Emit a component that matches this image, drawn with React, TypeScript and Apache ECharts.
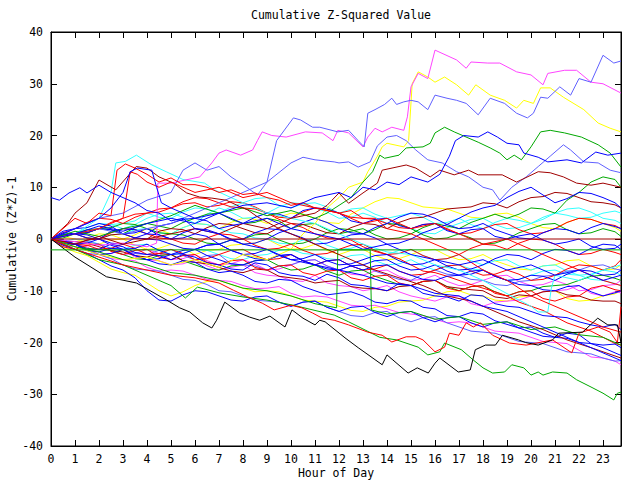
import React, { useEffect, useRef } from "react";
import * as echarts from "echarts";

type P = [number, number];

const HOURS = [0, 1, 2, 3, 4, 5, 6, 7, 8, 9, 10, 11, 12, 13, 14, 15, 16, 17, 18, 19, 20, 21, 22, 23, 23.75];
const MID_HOURS = [0.5, 1.5, 2.5, 3.5, 4.5, 5.5, 6.5, 7.5, 8.5, 9.5, 10.5, 11.5, 12.5, 13.5, 14.5, 15.5, 16.5, 17.5, 18.5, 19.5, 20.5, 21.5, 22.5, 23.5];
const X_TICKS = HOURS.slice(0, 24);
const Y_TICKS = [-40, -30, -20, -10, 0, 10, 20, 30, 40];

// ---- traced walks: [hour, value] ----
const magentaTop: P[] = [[0,0],[1,-0.5],[2,-1.2],[3,-0.8],[4,-1.5],[4.4,-0.8],[4.45,10.8],[5,10.8],[6.2,12],[6.7,14.7],[7,16.6],[7.3,17.2],[7.9,16.2],[8.4,17.2],[8.6,19],[8.8,20.7],[9.2,20],[9.8,19.7],[10.6,20.7],[11.3,20.5],[11.75,19],[11.95,21],[12.4,20.5],[13,17.8],[13.2,19.7],[13.5,21.4],[13.8,20.7],[14.2,21.6],[14.7,21],[14.85,23.6],[15,29.4],[15.3,32],[15.7,31],[16,36.5],[16.9,34.6],[17.3,33],[17.5,34.2],[18.2,34],[18.7,34],[19.4,32.3],[20,31.7],[20.5,29.8],[20.7,32],[21.4,32.6],[21.9,32.6],[22.5,30.3],[23,30],[23.75,28.2]];
const slateTop: P[] = [[0,0],[1,2],[2,4],[3,5],[4,7.5],[5,9],[5.5,13.3],[6,14.7],[6.5,13.3],[7,14],[7.5,12],[8,10.5],[8.6,8.5],[9,11],[9.4,19],[10.1,23.4],[10.4,23],[10.9,21.6],[11.2,21.6],[11.95,20.7],[12.4,21],[12.8,19],[13.05,17.8],[13.2,24.3],[13.5,25],[13.9,26],[14.2,27.2],[14.4,26],[14.7,26.5],[15,26.8],[15.3,26.5],[15.7,25],[16,27.8],[16.5,27.2],[16.9,26.8],[17.3,26.2],[17.8,24],[18.3,27.2],[18.9,26.2],[19.4,24.3],[19.85,23.4],[20.1,24.3],[20.4,27.4],[20.7,27.2],[21.2,29.4],[21.65,27.8],[22,31],[22.5,30.3],[23,35.5],[23.45,34],[23.75,34.4]];
const yellowTop: P[] = [[0,0],[1,-1.5],[2,-3],[3,-4],[4,-3.5],[5,-5],[6,-4],[7,-5.5],[8,-3],[9,-4],[10,-2],[10.5,1],[11,3],[11.5,6],[12,8],[12.4,10],[13,11],[13.2,13],[13.6,16],[13.8,17.8],[14,18.5],[14.7,17.8],[14.9,19],[15.05,30],[15.3,32.3],[15.7,31.3],[16,30.3],[16.4,31.3],[16.9,29.8],[17.4,27.8],[17.7,29.8],[18.3,27.8],[18.9,26.8],[19.4,25.3],[19.7,26.8],[20.1,26.2],[20.4,29.2],[20.8,29.2],[21.35,27.4],[22.2,25],[22.8,22.4],[23.3,21.4],[23.75,20.7]];
const greenPeak: P[] = [[0,0],[1,1.5],[2,0.5],[3,2],[4,3],[5,4.5],[6,6.5],[7,5],[8,6],[9,4.5],[10,5.5],[11,4],[11.5,5],[12,6.5],[12.5,8],[13,11],[13.4,13],[13.7,16.2],[13.9,15.6],[14.5,16.2],[14.8,17.6],[15.5,17.8],[15.8,18.5],[16,20.5],[16.4,21.6],[16.8,20.7],[17.8,18.7],[18.3,17.6],[18.7,16.6],[19,15.3],[19.3,16.2],[19.6,15.3],[20,17.8],[20.4,20.7],[20.8,21],[21.4,20.5],[22.1,19.7],[22.8,18.2],[23.3,16.6],[23.75,13.9]];
const blueHigh: P[] = [[0,0],[1,1],[2,2.5],[3,1.5],[4,3],[5,4],[6,3],[7,5],[8,6.5],[9,7],[10,6],[11,8],[12,9],[12.5,8],[13,10],[13.5,9.5],[14,11],[14.5,10.5],[15,12],[15.7,11],[16.2,12.5],[16.6,16],[16.85,19],[17.2,20],[17.8,19.7],[18.2,20.7],[18.6,19.7],[19,18.5],[19.5,18.2],[19.7,16.6],[20.3,15.8],[20.7,14.9],[21.5,15.3],[22.1,14.7],[22.7,16.8],[23.2,16.2],[23.75,16.6]];
const slateHigh: P[] = [[0,0],[1,1],[2,2],[3,1],[4,2],[5,3],[6,5],[7,7],[8,9],[9,11],[10,14.7],[10.5,15.8],[11,15.3],[11.8,14.9],[12,14.7],[12.4,14.9],[12.8,13.9],[13.3,14.9],[13.6,18],[14,19.7],[14.4,20],[14.8,19],[15.2,17.2],[15.7,15.3],[16.3,14.7],[16.9,13],[17.4,12],[18,10],[18.4,9.5],[18.7,7.5],[19.2,10],[19.8,12],[20.3,14],[20.8,16],[21.35,18.2],[21.65,17.2],[22.2,14.9],[22.8,14.7],[23.3,13.3],[23.75,12.8]];
const darkRedHigh: P[] = [[0,0],[1,-1],[2,0.5],[3,-1],[4,0],[5,1],[6,2],[7,1],[8,3],[9,2],[10,4],[11,5],[11.5,6.5],[12,8.9],[12.4,6.9],[13,8.9],[13.6,10.8],[13.8,13.3],[14.8,14.3],[15.2,13.7],[15.8,12],[16.2,13.3],[16.8,12.4],[17.4,13.3],[17.8,12.4],[18.8,12.4],[19.4,11],[20.3,13],[20.8,12.8],[21.35,12],[21.9,10.8],[22.5,10.4],[23,10.8],[23.75,10]];
const darkRedEarly: P[] = [[0,0],[0.7,3],[1,5],[1.5,7],[2,11.4],[2.7,9.5],[3.55,14],[4,13.7],[4.5,12],[5.1,10.8],[5.65,8.9],[6.2,8.1],[6.7,7.9],[7.3,7.5],[7.9,6.2],[8.2,5.6],[8.6,4.3],[9.5,2],[10.5,0],[11.5,-2],[12.5,-4],[13.5,-6],[14.5,-7.5],[15.5,-9],[16.5,-11],[17.5,-12],[18.5,-14],[19.5,-16],[20.5,-17.5],[21.5,-19.5],[22.5,-21],[23.75,-23]];
const redEarly: P[] = [[0,0],[0.5,2],[1,4],[1.5,3],[2,5],[2.5,4.5],[2.75,13.3],[3.1,14.5],[3.5,13.7],[4,12.5],[4.5,11],[5,11.8],[5.5,10.5],[6,10.5],[6.5,10],[7,9],[7.5,9.5],[8,8.6],[8.5,8.9],[9,8],[9.5,7.5],[10,6.5],[10.5,7],[11,6],[12,5],[12.5,5.5],[13,4],[13.5,4],[14,2],[15,1],[16,-1],[17,-3],[18,-6],[19,-8],[20,-11],[21,-13],[22,-15],[23,-17],[23.75,-18]];
const redEarly2: P[] = [[0,0],[1,1],[2,2],[3,4],[3.3,13],[3.6,12.5],[4,11],[4.5,10],[5,11],[6,9],[7,10],[7.5,9],[8,8],[9,9],[10,7],[11,6],[12,5],[13,3],[14,4],[15,2],[16,3],[17,1],[18,-1],[19,0],[20,-2],[21,-4],[22,-6],[23,-8],[23.75,-9]];
const cyanEarly: P[] = [[0,0],[1,1],[2,4],[2.5,9],[2.7,14.7],[3.1,15],[3.56,16.2],[4.2,14.3],[4.8,13],[5.5,11.5],[6.4,10.8],[6.8,9.5],[7.5,8],[8,7],[9,5],[10,4],[11,3],[12,1],[13,-1],[14,-2.5],[15,-3],[16,-5],[17,-6],[18,-8],[18.5,-9.3],[19.5,-11.8],[20,-13],[20.3,-14.1],[20.7,-14.1],[20.85,-9.5],[21,-7],[22,-8],[23,-6],[23.75,-5]];
const blueEarly: P[] = [[0,0],[1,2],[2,4],[2.5,6],[3,9],[3.3,13],[3.6,13.7],[4.2,13.3],[4.4,10],[4.6,7],[5,6],[6,4],[7,5],[8,3],[9,4],[10,2],[11,1],[12,0],[13,-2],[14,-1],[15,-3],[16,-4],[17,-5],[18,-4],[19,-6],[20,-5],[21,-7],[22,-6],[23,-8],[23.75,-7]];
const blueStart8: P[] = [[0,8],[0.35,7.5],[0.75,8.9],[1.2,9.9],[1.5,8.9],[2,10.4],[2.5,9],[3,8],[3.5,7],[4,5.5],[4.5,5],[5,3.5],[5.5,4],[6,2],[7,1],[8,-1],[9,-2],[10,-4],[11,-5],[12,-6],[13,-7],[14,-8.5],[15,-9],[16,-10.5],[17,-11],[18,-13],[19,-14],[20,-16],[21,-18],[22,-20],[23,-22],[23.75,-23.5]];
const blackLow: P[] = [[0,0],[1,-3.5],[2.31,-7.3],[3.56,-8.5],[4.82,-11.8],[5.36,-13.3],[5.78,-14.1],[6.32,-16.2],[6.7,-17.2],[6.9,-15.7],[7.24,-12.2],[7.86,-14.3],[8.28,-15.1],[8.7,-15.7],[9.12,-14.9],[9.75,-17],[10.04,-13.7],[10.5,-15.3],[11,-16.6],[11.2,-15.7],[11.42,-16],[12.25,-19.1],[12.8,-21],[13.8,-24.3],[14,-22.4],[14.88,-25.9],[15.26,-24.9],[15.72,-25.9],[16,-24],[16.2,-23],[16.97,-25.7],[17.47,-25.3],[17.68,-21.4],[18.1,-20.5],[18.52,-20.5],[18.81,-18.6],[19.48,-19.5],[19.77,-20],[20.3,-20.5],[20.9,-19.5],[21.15,-18.2],[22.15,-18],[22.78,-15.3],[23.2,-16.6],[23.6,-16.6],[23.75,-20]];
const greenLow: P[] = [[0,0],[1,-2],[2,-4],[3,-5],[4,-7],[5,-9],[5.6,-11.4],[6.1,-9.3],[7,-10.4],[8,-11.2],[9,-11.8],[10.1,-12.8],[11.8,-14.7],[12.4,-16],[13.7,-19],[14.4,-19.5],[15.3,-20.9],[15.7,-22.4],[16.2,-21.8],[16.4,-20.1],[17.1,-21.4],[17.6,-23.4],[18,-24.9],[18.4,-25.9],[18.9,-25.7],[19.2,-24.3],[19.7,-24.9],[20,-26.3],[20.3,-25.7],[20.5,-26.3],[20.9,-25.7],[21.5,-25.9],[21.9,-27.2],[22.5,-28.6],[23,-29.8],[23.45,-31.1],[23.6,-29.8],[23.75,-29.6]];
const redLow: P[] = [[0,0],[1,-2],[2,-3.5],[3,-5],[4,-6],[5,-7],[6,-7.5],[7,-8.5],[7.6,-9.9],[8.2,-11.2],[8.8,-12.4],[9.3,-13.7],[10,-12.8],[10.45,-13.3],[10.9,-14.3],[11.3,-15.3],[11.8,-15.7],[12.4,-16.6],[13.2,-18],[13.8,-18.6],[14.2,-19.9],[14.8,-18.9],[15.2,-18.9],[15.5,-19.5],[16,-21.8],[16.4,-20.9],[16.6,-18.2],[17,-18.6],[17.3,-16.2],[17.6,-17],[17.9,-16.2],[18.4,-18.6],[19.1,-20.1],[19.8,-20.5],[20.9,-19.5],[21.7,-22],[22,-18.2],[22.8,-17],[23.3,-18],[23.6,-20],[23.75,-13.1]];
const greenJump: P[] = [[0,0],[1,-1.5],[2,-2.5],[3,-4],[4,-5],[5,-6.5],[6,-7],[7,-8],[8,-9.5],[9,-10],[10,-11],[11,-12.5],[11.9,-13.3],[11.95,-2.1],[13.3,-2.1],[13.35,-13.7],[14,-14.5],[15,-14],[16,-15.5],[17,-15],[18,-16.5],[19,-16],[20,-17.5],[21,-17],[22,-18.5],[23,-19],[23.75,-20.5]];
const zeroLine: P[] = [[0,0],[23.75,0]];
const greenFlat: P[] = [[0,-2.1],[23.75,-2.1]];

// ---- walks read at whole hours (HOURS) and at half hours (MID_HOURS) ----
const m1 = [0,-1,-2,-1.5,-3,-4,-3.5,-5,-6,-5,-7,-8,-7.5,-9,-10,-9,-11,-12,-11,-13,-14,-15,-16,-17,-17.5];
const m1h = [-0.2,-2,-1,-2.6,-3.2,-3,-4.6,-5.8,-4.6,-6.5,-7.2,-6.8,-8.8,-9.5,-8.6,-10.5,-11.2,-10.8,-12.5,-13.2,-14.8,-15.2,-16.6,-16.5];
const m2 = [0,1,0,2,1,3,4,2,3,5,4,6,5,3,4,2,3,1,2,0,1,-1,0,-2,-1];
const m2h = [1.2,0.8,1.5,1.8,2.5,3.8,3.5,2.6,4.2,4.8,5.5,5.8,3.5,3.8,2.6,2.8,1.6,1.8,0.5,0.6,-0.2,-0.6,-1.4,-1.8];
const m3 = [0,-2,-1,-3,-2,-4,-3,-5,-4,-6,-5,-7,-6,-8,-7,-9,-8,-10,-9,-11,-10,-12,-11,-9,-10];
const m3h = [-1.5,-1.2,-2.4,-2.2,-3.5,-3.2,-4.5,-4.2,-5.5,-5.2,-6.5,-6.2,-7.5,-7.2,-8.5,-8.2,-9.5,-9.2,-10.5,-10.2,-11.5,-11.2,-9.5,-9.8];
const m4 = [0,-1,-3,-2,-4,-5,-4,-6,-5,-7,-8,-7,-9,-10,-9,-11,-12,-11,-13,-12,-11,-10,-9,-11,-10.4];
const m4h = [-0.8,-1.5,-2.8,-3.5,-4.2,-4.8,-5.2,-5.5,-6.5,-7.2,-8.2,-8.5,-9.2,-9.6,-10.2,-11.5,-11.2,-12.5,-12.2,-11.8,-10.2,-9.8,-10.5,-10.2];
const m5 = [0,1,2,3,5,4,6,5,7,8,6,7,5,6,4,5,3,4,2,4,3,5,4,5,5];
const m5h = [0.8,1.2,2.8,3.5,4.2,5.2,5.8,6.2,7.8,6.5,6.8,6.2,5.8,4.8,4.5,4.2,3.2,2.8,3.2,3.6,3.8,4.6,4.2,5.4];
const m6 = [0,-2.5,-4.5,-6.5,-8.5,-11,-9,-8,-9.5,-10,-11,-12,-13,-14,-13,-12,-11,-10,-11,-12,-11,-10,-12,-11,-10];
const m6h = [-1.5,-3.2,-5.8,-7,-10,-10.2,-8.2,-8.8,-10.2,-10.2,-11.8,-12.2,-13.8,-13.2,-12.2,-11.8,-10.2,-10.8,-11.8,-11.2,-10.2,-11.5,-11.8,-10.6];
const u1 = [0,1,2,1,3,2,4,5,3,4,2,3,1,2,0,1,3,2,4,4,6,5,9,12,10];
const u1h = [0.8,1.2,1.8,2.2,2.5,3.2,4.8,3.8,3.2,3.5,2.8,1.8,1.5,0.8,0.2,2.2,2.5,3.2,4.8,4.8,5.8,7.5,11,11.5];
const u2 = [0,-1,0,1,0,2,1,3,2,1,3,2,1,3,2,4,5,6,7,6,8,9,8,7,6];
const u2h = [-0.8,-0.2,0.8,0.2,1.5,1.8,2.2,2.8,1.2,2.2,2.8,1.2,2.2,2.8,3.2,4.2,5.8,6.2,6.8,7.2,8.2,8.8,7.2,6.6];
const u3 = [0,2,3,1,2,0,1,-1,0,2,1,-1,0,1,-1,0,2,4,6,8,10,7,9,8,6];
const u3h = [1.5,2.2,2.5,1.2,0.8,0.2,0.5,-0.2,1.2,1.8,0.2,-0.8,0.8,0.2,-0.8,1.2,2.8,5.2,6.5,9.2,8.5,7.8,8.8,7];
const u4 = [0,1,3,2,4,5,3,6,4,5,7,6,4,5,3,2,1,3,4,2,3,5,6,4,3];
const u4h = [0.8,2.2,2.8,2.8,4.8,4.2,4.8,5.2,4.2,6.2,6.8,5.2,4.2,4.2,2.8,1.2,2.2,3.8,2.8,2.2,4.2,5.8,5.2,3.6];
const u5 = [0,2,4,3,5,6,8,7,6,5,4,6,5,4,3,2,3,1,2,3,1,2,4,3,2];
const u5h = [1.2,3.2,3.8,4.2,5.8,7.2,7.8,6.2,5.8,4.2,5.2,5.8,4.2,3.8,2.2,2.8,1.8,1.2,2.8,1.8,1.2,3.2,3.8,2.6];
const u6 = [0,1,0,-1,1,0,2,1,-1,0,2,4,2,1,3,5,4,2,3,1,0,2,1,3,2];
const u6h = [0.8,0.2,-0.8,0.2,0.8,1.2,1.8,-0.2,-0.8,1.2,3.2,3.2,1.2,2.2,4.2,4.8,2.8,2.2,1.8,0.2,1.2,1.8,2.2,2.4];
const u7 = [0,-1,1,0,2,1,3,2,4,3,5,4,3,6,8,7,6,5,4,5,3,2,4,3,1.5];
const u7h = [-0.8,0.2,0.8,0.8,1.8,2.2,2.8,3.2,3.8,4.2,4.8,3.2,4.8,7.2,7.8,6.2,5.8,4.2,4.8,4.2,2.2,3.2,3.8,2.2];
const u8 = [0,1,2,3,2,1,0,-1,0,1,-1,0,2,1,3,2,0,1,-1,0,2,3,1,2,0.5];
const u8h = [0.2,1.8,2.2,2.8,1.2,0.8,-0.8,-0.2,0.8,-0.2,-0.8,1.2,1.8,1.8,2.8,0.8,0.2,0.2,-0.8,1.2,2.8,1.8,1.2,1.4];
const c1 = [0,-1,0,-2,-1,-3,-2,-1,-3,-2,-4,-3,-5,-4,-3,-5,-4,-6,-5,-3,-4,-2,-3,-1,-2];
const c1h = [-0.2,-0.8,-1.2,-1.8,-2.2,-2.8,-1.2,-2.2,-2.8,-3.2,-3.8,-4.2,-4.8,-3.2,-4.2,-4.8,-5.2,-5.8,-3.8,-3.2,-2.8,-2.2,-1.8,-1.2];
const c2 = [0,-1,-2,-1,-3,-2,-4,-3,-2,-4,-3,-5,-4,-6,-5,-7,-6,-5,-7,-6,-8,-7,-5,-6,-4];
const c2h = [-0.8,-1.2,-1.8,-1.8,-2.8,-2.8,-3.8,-2.2,-3.2,-3.8,-4.2,-4.2,-5.2,-5.8,-6.2,-6.8,-5.2,-6.2,-6.8,-6.8,-7.8,-5.8,-5.2,-5.2];
const c3 = [0,-1,-2,-3,-2,-4,-3,-5,-4,-6,-5,-4,-6,-7,-6,-8,-7,-9,-8,-7,-9,-8,-10,-9,-8];
const c3h = [-0.2,-1.8,-2.2,-2.8,-2.8,-3.8,-4.2,-4.8,-4.8,-5.8,-4.2,-5.2,-6.8,-6.2,-7.2,-7.8,-8.2,-8.8,-7.2,-8.2,-8.8,-8.8,-9.8,-8.8];
const c4 = [0,0,-1,-2,-1,-3,-2,-3,-4,-3,-2,-3,-4,-3,-5,-4,-6,-5,-6,-8,-7,-6,-7,-8,-9];
const c4h = [-0.5,-0.2,-1.8,-1.2,-2.2,-2.8,-2.2,-3.8,-3.2,-2.2,-2.8,-3.8,-3.2,-4.2,-4.8,-5.2,-5.2,-5.8,-7.2,-7.8,-6.2,-6.8,-7.8,-8.6];
const c5 = [0,-1,-1,-2,-3,-2,-4,-3,-5,-6,-5,-4,-6,-5,-7,-8,-6,-7,-8,-9,-8,-7,-6,-5,-6];
const c5h = [-0.8,-0.5,-1.8,-2.8,-2.2,-3.2,-3.2,-4.8,-5.2,-5.2,-4.2,-5.2,-5.2,-6.2,-7.8,-6.8,-6.8,-7.8,-8.8,-8.2,-7.2,-6.2,-5.2,-5.8];
const c6 = [0,1,2,1,0,-1,-2,-1,-3,-4,-3,-5,-4,-6,-5,-7,-8,-7,-6,-8,-9,-10,-9,-11,-10];
const c6h = [0.8,1.2,1.8,0.2,-0.2,-1.8,-1.2,-2.2,-3.8,-3.2,-4.2,-4.2,-5.2,-5.2,-6.2,-7.8,-7.2,-6.2,-7.2,-8.8,-9.8,-9.2,-10.2,-10.4];
const c7 = [0,-1,-2,-3,-4,-3,-5,-6,-5,-4,-6,-5,-7,-6,-8,-9,-8,-10,-9,-11,-10,-9,-8,-7,-8];
const c7h = [-0.2,-1.8,-2.2,-3.8,-3.2,-4.2,-5.8,-5.2,-4.2,-5.2,-5.8,-6.2,-6.2,-7.2,-8.8,-8.2,-9.2,-9.2,-10.2,-10.2,-9.2,-8.8,-7.2,-7.6];
const c8 = [0,-0.5,-1.5,-2.5,-3.5,-3,-4.5,-5.5,-6.5,-6,-7.5,-8.5,-8,-9.5,-10,-9,-8,-9.5,-10,-11.5,-11,-10,-11,-12,-12.5];
const c8h = [-0.5,-0.8,-2.2,-3.2,-2.8,-4.2,-4.8,-6.2,-5.8,-7.2,-7.8,-8.2,-9.2,-9.6,-9.2,-8.2,-9.2,-9.8,-11.2,-10.8,-10.2,-10.8,-11.8,-12];
const c9 = [0,0,-1,0,-2,-1,-3,-2,-1,0,-2,-1,-3,-2,-4,-3,-2,-4,-3,-5,-6,-5,-4,-6,-5];
const c9h = [0.5,-0.8,-0.2,-1.2,-1.8,-1.8,-2.2,-1.2,-0.8,-1.2,-1.8,-2.2,-2.2,-3.2,-3.8,-2.2,-3.2,-3.8,-4.2,-5.8,-5.2,-4.2,-5.2,-5.8];
const c10 = [0,1,0,2,1,0,-1,1,0,-2,-1,-3,-2,-1,-3,-2,-4,-3,-1,-2,0,-1,-3,-2,-3];
const c10h = [0.8,0.2,1.2,1.8,0.2,-0.8,0.2,0.8,-1.2,-1.8,-2.2,-2.8,-1.2,-2.2,-2.8,-3.2,-3.8,-1.8,-1.2,-0.8,-0.2,-2.2,-2.8,-2.6];
const c11 = [0,-1,-3,-2,-4,-3,-2,-4,-5,-4,-3,-5,-6,-5,-4,-6,-5,-7,-6,-8,-7,-8,-6,-7,-6];
const c11h = [-0.8,-2.2,-2.8,-3.2,-3.8,-2.2,-3.2,-4.8,-4.2,-3.2,-4.2,-5.8,-5.2,-4.2,-5.2,-5.8,-6.2,-6.8,-7.2,-7.8,-7.2,-6.8,-6.2,-6.8];
const c12 = [0,1,0,1,2,1,3,2,1,0,-1,0,-2,-1,-3,-2,-4,-3,-5,-4,-6,-5,-7,-6,-7];
const c12h = [0.8,0.2,0.8,1.8,1.2,2.2,2.8,1.2,0.2,-0.8,-0.2,-1.2,-1.8,-2.2,-2.2,-3.2,-3.8,-4.2,-4.2,-5.2,-5.2,-6.2,-6.8,-6.4];
const l1 = [0,-1,-2.5,-2,-4,-5,-4.5,-6.5,-7,-8.5,-8,-10,-10.5,-11,-12.5,-12,-13.5,-15,-14.5,-16.5,-17,-19,-18.5,-21,-22.5];
const l1h = [-0.8,-2.2,-1.8,-3.2,-4.8,-4.2,-5.8,-6.2,-8.2,-7.8,-9.2,-10.8,-10.2,-12.2,-11.8,-13.2,-14.8,-14.2,-15.8,-17.2,-18.2,-18.2,-20.2,-22];
const l2 = [0,1,2,4,5,6,7,6.5,7,5,3,1,0,-1.5,-3,-5,-6.5,-8,-9.5,-11,-13,-15,-17,-19,-20.5];
const l2h = [0.8,1.2,3.2,4.8,5.2,6.8,6.2,7.2,6.2,3.8,2.2,0.2,-0.2,-2.4,-3.8,-6.2,-7.2,-8.8,-10.2,-12.2,-13.8,-16.2,-17.8,-20.2];
const l3 = [0,-1.5,-3,-4,-5.5,-6,-7,-8,-9,-9.5,-10.5,-11,-12,-13,-13.5,-14.5,-15.5,-16,-17,-18,-19,-20,-21.5,-23,-24.3];
const l3h = [-1.2,-1.8,-3.8,-4.2,-6.2,-6.2,-7.8,-8.2,-9.6,-9.2,-11.2,-11.2,-12.8,-12.8,-14.2,-14.8,-16.2,-16.2,-17.8,-18.2,-19.8,-20.2,-22.8,-23.6];
const l4 = [0,-2,-3,-5,-6,-7,-8,-10,-11,-12,-13,-12,-14,-15,-14,-16,-15,-17,-18,-19,-20,-21,-22,-23,-23.5];
const l4h = [-0.8,-2.8,-3.8,-5.8,-6.2,-7.8,-8.8,-10.2,-11.8,-12.2,-12.2,-13.2,-14.8,-14.2,-15.2,-15.2,-16.2,-17.8,-18.2,-19.8,-20.2,-21.8,-22.2,-23.6];
const l5 = [0,-2,-4,-6,-10,-12,-10,-11,-12,-11,-13,-12,-14,-13,-15,-14,-16,-15,-17,-16,-18,-19,-20,-20.5,-21];
const l5h = [-1.2,-2.8,-5.2,-7.5,-11.8,-10.8,-10.2,-11.8,-11.2,-12.2,-12.2,-13.2,-13.2,-14.2,-14.2,-15.2,-15.2,-16.2,-16.2,-17.2,-18.8,-19.2,-20.2,-20.3];

const RED = "#ff0000", GREEN = "#00a800", BLUE = "#0000ff", MAGENTA = "#ff44ff", CYAN = "#33ffff",
  DARKRED = "#a00000", YELLOW = "#ffff00", SLATE = "#6060ff", BLACK = "#000000";

const walk = (v: number[], h: number[]): P[] => {
  const out: P[] = [];
  for (let i = 0; i < h.length; i++) {
    out.push([HOURS[i], v[i]]);
    out.push([MID_HOURS[i], h[i]]);
  }
  out.push([HOURS[HOURS.length - 1], v[v.length - 1]]);
  return out;
};

const SERIES: { d: P[]; c: string }[] = [
  { d: walk(m6, m6h), c: YELLOW }, { d: walk(u7, u7h), c: YELLOW }, { d: walk(c9, c9h), c: YELLOW },
  { d: walk(m5, m5h), c: CYAN }, { d: walk(u4, u4h), c: CYAN }, { d: walk(c4, c4h), c: CYAN }, { d: walk(c12, c12h), c: CYAN },
  { d: walk(m4, m4h), c: MAGENTA }, { d: walk(c3, c3h), c: MAGENTA }, { d: walk(l3, l3h), c: MAGENTA },
  { d: walk(u1, u1h), c: GREEN }, { d: walk(u8, u8h), c: GREEN }, { d: walk(c7, c7h), c: GREEN },
  { d: walk(u2, u2h), c: DARKRED }, { d: walk(c8, c8h), c: DARKRED },
  { d: walk(c5, c5h), c: SLATE }, { d: walk(l4, l4h), c: SLATE },
  { d: walk(m3, m3h), c: RED }, { d: walk(u5, u5h), c: RED }, { d: walk(c2, c2h), c: RED }, { d: walk(c10, c10h), c: RED }, { d: walk(l2, l2h), c: RED },
  { d: walk(m1, m1h), c: BLUE }, { d: walk(m2, m2h), c: BLUE }, { d: walk(u3, u3h), c: BLUE }, { d: walk(u6, u6h), c: BLUE },
  { d: walk(c1, c1h), c: BLUE }, { d: walk(c6, c6h), c: BLUE }, { d: walk(c11, c11h), c: BLUE }, { d: walk(l1, l1h), c: BLUE }, { d: walk(l5, l5h), c: BLUE },
  { d: cyanEarly, c: CYAN }, { d: yellowTop, c: YELLOW }, { d: magentaTop, c: MAGENTA },
  { d: slateTop, c: SLATE }, { d: slateHigh, c: SLATE },
  { d: greenPeak, c: GREEN }, { d: greenLow, c: GREEN }, { d: greenJump, c: GREEN },
  { d: darkRedHigh, c: DARKRED }, { d: darkRedEarly, c: DARKRED },
  { d: redEarly, c: RED }, { d: redEarly2, c: RED }, { d: redLow, c: RED },
  { d: blueHigh, c: BLUE }, { d: blueEarly, c: BLUE }, { d: blueStart8, c: BLUE },
  { d: blackLow, c: BLACK },
  { d: greenFlat, c: GREEN }, { d: zeroLine, c: DARKRED },
];

const FONT = "'DejaVu Sans Mono', monospace";

export default function App() {
  const ref = useRef<HTMLDivElement>(null);
  useEffect(() => {
    document.body.style.margin = "0";
    const chart = echarts.init(ref.current!, undefined, { renderer: "svg" });
    const axisCommon = {
      axisLine: { show: true, onZero: false, lineStyle: { color: "#000", width: 1 } },
      axisTick: { show: true, inside: true, length: 6, lineStyle: { color: "#000", width: 1 } },
      splitLine: { show: false },
    };
    chart.setOption({
      animation: false,
      backgroundColor: "#fff",
      title: {
        text: "Cumulative Z-Squared Value",
        left: 336,
        textAlign: "center",
        top: 4,
        textStyle: { fontFamily: FONT, fontSize: 11.5, fontWeight: "normal", color: "#000" },
      },
      grid: {
        left: 51, top: 32, width: 570, height: 414,
        outerBoundsMode: "none", containLabel: false,
        show: true, borderColor: "#000", borderWidth: 1, backgroundColor: "transparent",
      },
      xAxis: [
        {
          ...axisCommon,
          type: "value", position: "bottom", min: 0, max: 23.75, interval: 1,
          axisLabel: {
            fontFamily: FONT, fontSize: 11.5, color: "#000", margin: 7,
            formatter: (v: number) => (X_TICKS.includes(v) ? String(v) : ""),
          },
          name: "Hour of Day", nameLocation: "middle", nameGap: 21, nameMoveOverlap: false,
          nameTextStyle: { fontFamily: FONT, fontSize: 11.5, color: "#000" },
        },
        {
          ...axisCommon,
          type: "value", position: "top", min: 0, max: 23.75, interval: 1,
          axisLabel: { show: false },
        },
      ],
      yAxis: [
        {
          ...axisCommon,
          type: "value", position: "left", min: Y_TICKS[0], max: Y_TICKS[Y_TICKS.length - 1], interval: 10,
          axisLabel: { fontFamily: FONT, fontSize: 11.5, color: "#000", margin: 8 },
          name: "Cumulative (Z*Z)-1", nameLocation: "middle", nameGap: 33, nameRotate: 90, nameMoveOverlap: false,
          nameTextStyle: { fontFamily: FONT, fontSize: 11.5, color: "#000" },
        },
        {
          ...axisCommon,
          type: "value", position: "right", min: Y_TICKS[0], max: Y_TICKS[Y_TICKS.length - 1], interval: 10,
          axisLabel: { show: false },
        },
      ],
      series: SERIES.map((s, i) => ({
        type: "line",
        name: "walk" + i,
        data: s.d,
        xAxisIndex: 0,
        yAxisIndex: 0,
        showSymbol: false,
        symbol: "none",
        silent: true,
        lineStyle: { color: s.c, width: 1 },
        itemStyle: { color: s.c },
        z: 2,
      })),
    });
    return () => chart.dispose();
  }, []);
  return <div ref={ref} style={{ width: 640, height: 480 }} />;
}
